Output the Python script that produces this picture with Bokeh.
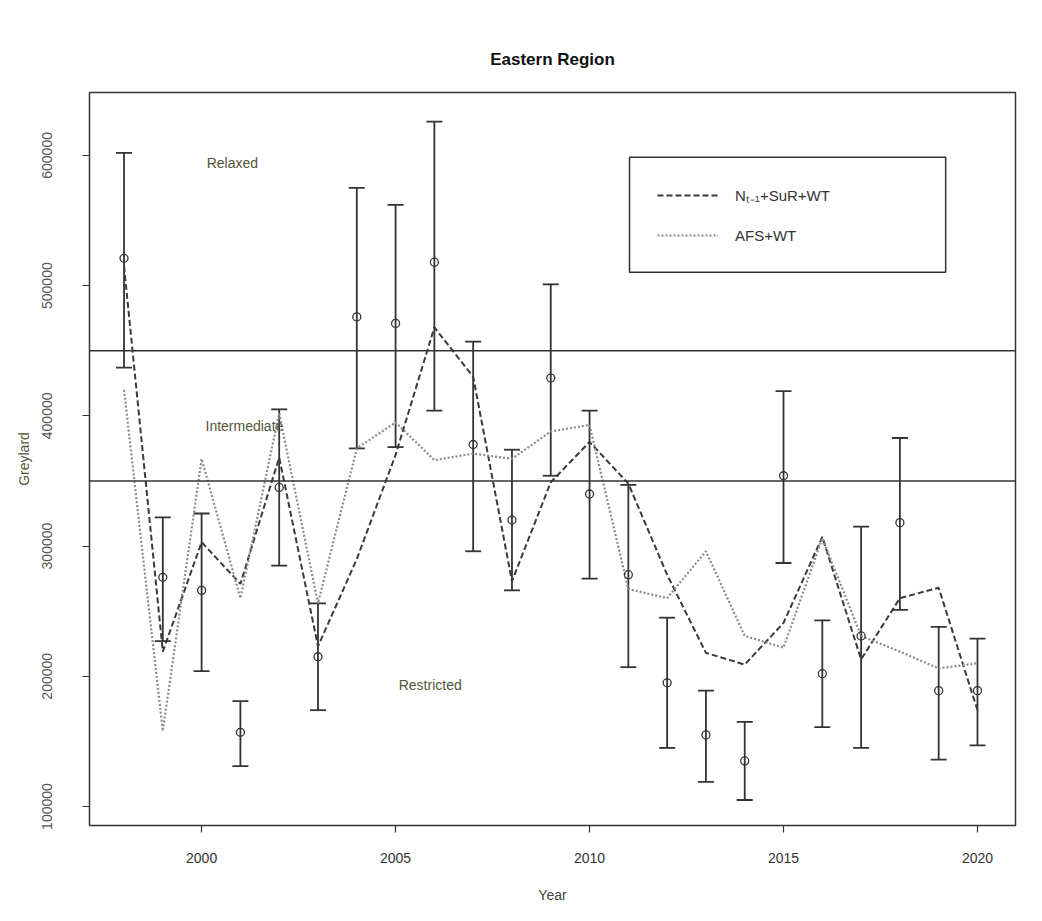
from bokeh.plotting import figure
from bokeh.models import (ColumnDataSource, Whisker, TeeHead, Span, Label, Legend,
                          LegendItem, BoxAnnotation, FixedTicker, Range1d)
from bokeh.embed import file_html
from bokeh.resources import INLINE

years = list(range(1998, 2021))
observed = [521000, 276000, 266000, 157000, 345000, 215000, 476000, 471000, 518000, 378000,
            320000, 429000, 340000, 278000, 195000, 155000, 135000, 354000, 202000, 231000,
            318000, 189000, 189000]
obs_upper = [602000, 322000, 325000, 181000, 405000, 256000, 575000, 562000, 626000, 457000,
             374000, 501000, 404000, 347000, 245000, 189000, 165000, 419000, 243000, 315000,
             383000, 238000, 229000]
obs_lower = [437000, 227000, 204000, 131000, 285000, 174000, 375000, 376000, 404000, 296000,
             266000, 354000, 275000, 207000, 145000, 119000, 105000, 287000, 161000, 145000,
             251000, 136000, 147000]
nt1_sur_wt = [515000, 219000, 303000, 271000, 368000, 223000, 290000, 370000, 468000, 430000,
              273000, 349000, 380000, 348000, 278000, 218000, 209000, 241000, 307000, 213000,
              260000, 268000, 174000]
afs_wt = [420000, 158000, 367000, 260000, 402000, 256000, 375000, 395000, 366000, 371000,
          367000, 388000, 393000, 267000, 260000, 296000, 231000, 222000, 306000, 231000,
          219000, 206000, 210000]
thresholds = [350000, 450000]
x_ticks = [2000, 2005, 2010, 2015, 2020]
y_ticks = [100000, 200000, 300000, 400000, 500000, 600000]

FONT = "Liberation Sans"
INK = "#333333"
OLIVE = "#55553a"

src = ColumnDataSource(dict(year=years, obs=observed, up=obs_upper, lo=obs_lower,
                            nt1=nt1_sur_wt, afs=afs_wt))

p = figure(width=1026, height=905, output_backend="svg", toolbar_location=None,
           x_range=Range1d(1997.11, 2020.98), y_range=Range1d(85430, 648300),
           min_border_left=89, min_border_right=11, min_border_top=92, min_border_bottom=79,
           title="Eastern Region")
p.background_fill_color = "white"
p.border_fill_color = "white"
p.grid.visible = False
p.outline_line_color = INK
p.outline_line_width = 1.5

p.title.align = "center"
p.title.text_font = FONT
p.title.text_font_size = "17px"
p.title.text_font_style = "bold"
p.title.text_color = "#111111"
p.title.standoff = 47

for ax in (p.xaxis[0], p.yaxis[0]):
    ax.axis_line_color = None
    ax.major_tick_line_color = INK
    ax.major_tick_line_width = 1.2
    ax.major_tick_out = 7
    ax.major_tick_in = 0
    ax.minor_tick_line_color = None
    ax.major_label_text_font = FONT
    ax.major_label_text_font_size = "14px"
    ax.major_label_text_color = "#333333"
    ax.axis_label_text_font = FONT
    ax.axis_label_text_font_size = "14px"
    ax.axis_label_text_font_style = "normal"

p.xaxis.ticker = FixedTicker(ticks=x_ticks)
p.yaxis.ticker = FixedTicker(ticks=y_ticks)
p.yaxis.formatter.use_scientific = False
p.yaxis.major_label_orientation = "vertical"
p.xaxis.axis_label = "Year"
p.yaxis.axis_label = "Greylard"
p.xaxis.major_label_standoff = 20
p.xaxis.axis_label_standoff = 21
p.yaxis.major_label_standoff = 30
p.yaxis.axis_label_standoff = 8
p.yaxis.axis_label_text_color = OLIVE
p.yaxis.major_label_text_color = "#555555"

for t in thresholds:
    p.add_layout(Span(location=t, dimension="width", line_color=INK, line_width=1.5))

r_dash = p.line("year", "nt1", source=src, line_color="#3a3a3a", line_width=2,
                line_dash="6 3")
r_dot = p.line("year", "afs", source=src, line_color="#8a8a8a", line_width=2.2,
               line_dash="2 2")

p.add_layout(Whisker(source=src, base="year", upper="up", lower="lo",
                     line_color=INK, line_width=1.8,
                     upper_head=TeeHead(size=16, line_color=INK, line_width=1.8),
                     lower_head=TeeHead(size=16, line_color=INK, line_width=1.8)))
p.scatter("year", "obs", source=src, marker="circle", size=8, fill_color=None,
          line_color=INK, line_width=1.3)

for txt, x, y in [("Relaxed", 2000.13, 594000), ("Intermediate", 2000.1, 392000),
                  ("Restricted", 2005.08, 193000)]:
    p.add_layout(Label(x=x, y=y, text=txt, text_font=FONT, text_font_size="14px",
                       text_color=OLIVE, text_baseline="middle"))

p.add_layout(BoxAnnotation(left=2011.03, right=2019.18, top=598500, bottom=510300,
                           fill_color=None, fill_alpha=0, line_color=INK, line_alpha=1,
                           line_width=1.5))
legend = Legend(items=[LegendItem(label="N\u209c\u208b\u2081+SuR+WT", renderers=[r_dash]),
                       LegendItem(label="AFS+WT", renderers=[r_dot])],
                location=(568, 580), border_line_alpha=0, background_fill_alpha=0,
                padding=0, margin=0, spacing=20, glyph_width=61, glyph_height=20,
                label_standoff=17, label_text_font=FONT, label_text_font_size="15px",
                label_text_color="#333333")
p.add_layout(legend)

open("out.html", "w").write(file_html(p, INLINE))
